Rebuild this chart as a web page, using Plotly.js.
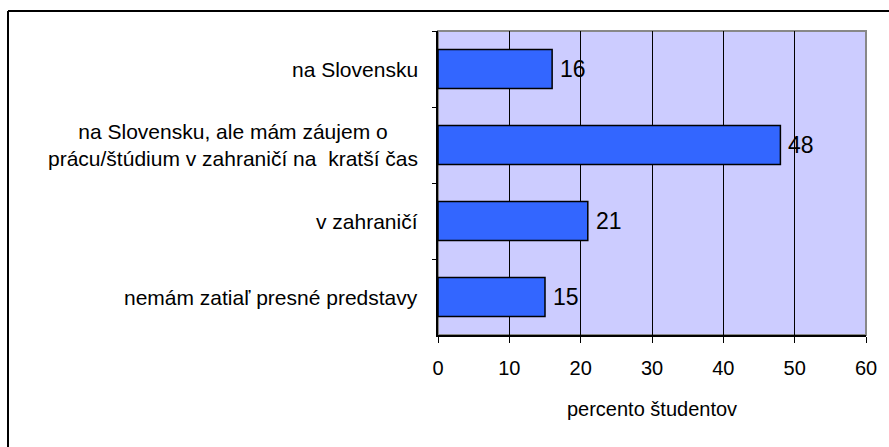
<!DOCTYPE html>
<html>
<head>
<meta charset="utf-8">
<script src="https://cdn.plot.ly/plotly-3.0.1.min.js"></script>
<style>
  html, body { margin: 0; padding: 0; background: #ffffff; }
  #chart { width: 889px; height: 447px; }
</style>
</head>
<body>
<div id="chart"></div>
<script>
const categories = [
  "na Slovensku",
  "na Slovensku, ale mám záujem o<br>prácu/štúdium v zahraničí na  kratší čas",
  "v zahraničí",
  "nemám zatiaľ presné predstavy"
];
const values = [16, 48, 21, 15];
const xTickValues = [0, 10, 20, 30, 40, 50, 60];
const xTitle = "percento študentov";

const FONT = "Liberation Sans, Arial, sans-serif";

const trace = {
  type: "bar",
  orientation: "h",
  x: values,
  y: categories,
  width: 0.51,
  marker: { color: "#3366FF", line: { color: "#000000", width: 1.5 } },
  hoverinfo: "x+y"
};

const catAnnotations = categories.map(c => ({
  xref: "paper", yref: "y",
  x: -0.042, y: c,
  xanchor: "right", yanchor: "middle",
  align: "center",
  text: c,
  showarrow: false,
  font: { family: FONT, size: 21, color: "#000000" }
}));

const valueAnnotations = values.map((v, i) => ({
  xref: "x", yref: "y",
  x: v, y: categories[i],
  xanchor: "left", yanchor: "middle",
  xshift: 6,
  text: String(v),
  showarrow: false,
  font: { family: FONT, size: 23, color: "#000000" }
}));

const layout = {
  width: 889, height: 447,
  margin: { l: 438, r: 23, t: 31, b: 112, pad: 0 },
  paper_bgcolor: "#ffffff",
  plot_bgcolor: "#CCCCFF",
  showlegend: false,
  bargap: 0.49,
  font: { family: FONT, size: 20, color: "#000000" },
  xaxis: {
    range: [0, 60],
    tickvals: xTickValues,
    ticktext: xTickValues.map(String),
    showgrid: true, gridcolor: "#000000", gridwidth: 1,
    zeroline: false,
    showline: true, linecolor: "#000000", linewidth: 2,
    ticks: "outside", ticklen: 6, tickcolor: "#000000", tickwidth: 1,
    ticklabelstandoff: 8,
    tickfont: { family: FONT, size: 20, color: "#000000" },
    title: { text: xTitle, font: { family: FONT, size: 20, color: "#000000" }, standoff: 24 },
    fixedrange: true
  },
  yaxis: {
    type: "category",
    autorange: "reversed",
    showticklabels: false,
    showgrid: false, zeroline: false,
    showline: true, linecolor: "#000000", linewidth: 2,
    ticks: "outside", tickson: "boundaries", ticklen: 4, tickcolor: "#000000",
    fixedrange: true
  },
  annotations: catAnnotations.concat(valueAnnotations),
  shapes: [
    { type: "rect", xref: "paper", yref: "paper", x0: 0, x1: 1, y0: 0, y1: 1,
      line: { color: "#888888", width: 2 }, layer: "below" },
    { type: "line", xref: "paper", yref: "paper",
      x0: (8 - 438) / 428, x1: (889 - 438) / 428, y0: 1 + (31 - 11) / 304, y1: 1 + (31 - 11) / 304,
      line: { color: "#000000", width: 2 } },
    { type: "line", xref: "paper", yref: "paper",
      x0: (8 - 438) / 428, x1: (8 - 438) / 428, y0: 1 + (31 - 11) / 304, y1: -(447 - 335) / 304,
      line: { color: "#000000", width: 2 } }
  ]
};

Plotly.newPlot("chart", [trace], layout, { displayModeBar: false, staticPlot: true });
</script>
</body>
</html>
